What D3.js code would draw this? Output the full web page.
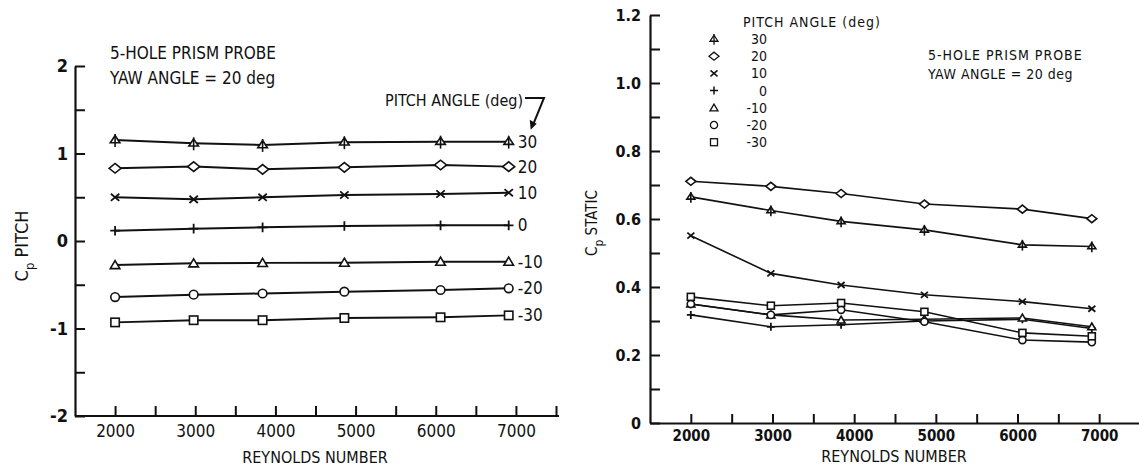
<!DOCTYPE html>
<html>
<head>
<meta charset="utf-8">
<script src="https://cdn.jsdelivr.net/npm/d3@7"></script>
<style>
  html, body { margin: 0; padding: 0; background: #fff; }
  svg { display: block; }
  text { fill: #111; }
</style>
</head>
<body>
<svg id="chart" width="1139" height="468"></svg>
<script>
// Reynolds numbers at which the probe was tested
const reynolds = [2000, 2980, 3840, 4860, 6060, 6910];
const pitchAngles = [30, 20, 10, 0, -10, -20, -30];
const reynoldsTicks = [2000, 2500, 3000, 3500, 4000, 4500, 5000, 5500, 6000, 6500, 7000, 7500];
const pitchTicks = [-2, -1.5, -1, -0.5, 0, 0.5, 1, 1.5, 2];
const staticTicks = [0, 0.1, 0.2, 0.3, 0.4, 0.5, 0.6, 0.7, 0.8, 0.9, 1.0, 1.1, 1.2];

// Pitch pressure coefficient, one array per pitch angle
const cpPitch30  = [1.154, 1.116, 1.097, 1.128, 1.135, 1.135];
const cpPitch20  = [0.831, 0.850, 0.819, 0.842, 0.869, 0.850];
const cpPitch10  = [0.499, 0.476, 0.499, 0.526, 0.537, 0.552];
const cpPitch0   = [0.118, 0.141, 0.156, 0.171, 0.179, 0.179];
const cpPitchM10 = [-0.275, -0.255, -0.250, -0.248, -0.236, -0.236];
const cpPitchM20 = [-0.641, -0.613, -0.600, -0.579, -0.560, -0.541];
const cpPitchM30 = [-0.930, -0.905, -0.905, -0.880, -0.872, -0.850];

// Static pressure coefficient, one array per pitch angle
const cpStatic30  = [0.665, 0.625, 0.593, 0.568, 0.524, 0.519];
const cpStatic20  = [0.711, 0.696, 0.675, 0.644, 0.629, 0.601];
const cpStatic10  = [0.551, 0.440, 0.406, 0.377, 0.357, 0.336];
const cpStatic0   = [0.318, 0.283, 0.289, 0.300, 0.305, 0.278];
const cpStaticM10 = [0.350, 0.318, 0.303, 0.305, 0.309, 0.283];
const cpStaticM20 = [0.350, 0.318, 0.333, 0.298, 0.244, 0.238];
const cpStaticM30 = [0.371, 0.345, 0.353, 0.327, 0.265, 0.255];

const pitchSeries = [cpPitch30, cpPitch20, cpPitch10, cpPitch0, cpPitchM10, cpPitchM20, cpPitchM30];
const staticSeries = [cpStatic30, cpStatic20, cpStatic10, cpStatic0, cpStaticM10, cpStaticM20, cpStaticM30];

// marker shape per pitch angle
const symbolFor = { "30": "triplus", "20": "diamond", "10": "cross", "0": "plus",
                    "-10": "triangle", "-20": "circle", "-30": "square" };

const FONT = '"Liberation Sans Narrow", "DejaVu Sans Condensed", "Arial Narrow", sans-serif';
const svg = d3.select("#chart");
svg.append("rect").attr("width", 1139).attr("height", 468).attr("fill", "#fff");

function drawMarker(g, type, s, sw) {
  sw = sw || 1.6;
  const st = { fill: "#fff", stroke: "#111", "stroke-width": sw };
  const apply = sel => { for (const k in st) sel.attr(k, st[k]); return sel; };
  if (type === "diamond") {
    apply(g.append("path").attr("d", `M${-s},0L0,${-s * 0.8}L${s},0L0,${s * 0.8}Z`));
  } else if (type === "square") {
    apply(g.append("rect").attr("x", -s * 0.7).attr("y", -s * 0.7).attr("width", s * 1.4).attr("height", s * 1.4));
  } else if (type === "circle") {
    apply(g.append("circle").attr("r", s * 0.72));
  } else if (type === "triangle") {
    apply(g.append("path").attr("d", `M0,${-s * 0.75}L${s * 0.8},${s * 0.6}L${-s * 0.8},${s * 0.6}Z`));
  } else if (type === "triplus") {
    apply(g.append("path").attr("d", `M0,${-s * 0.75}L${s * 0.8},${s * 0.45}L${-s * 0.8},${s * 0.45}Z`));
    g.append("path").attr("d", `M0,${-s * 1.0}L0,${s * 1.15}`).attr("stroke", "#111").attr("stroke-width", sw);
  } else if (type === "cross") {
    g.append("path").attr("d", `M${-s * 0.7},${-s * 0.6}L${s * 0.7},${s * 0.6}M${-s * 0.7},${s * 0.6}L${s * 0.7},${-s * 0.6}`)
      .attr("stroke", "#111").attr("stroke-width", sw + 0.2);
  } else if (type === "plus") {
    g.append("path").attr("d", `M${-s * 0.8},0L${s * 0.8},0M0,${-s * 0.8}L0,${s * 0.8}`)
      .attr("stroke", "#111").attr("stroke-width", sw + 0.2);
  }
}

function drawPanel(opts) {
  const { x, y, series, markerSize, lineWidth } = opts;
  const g = svg.append("g");
  const line = d3.line().x((d, i) => x(reynolds[i])).y(d => y(d));
  series.forEach(vals => {
    g.append("path").datum(vals).attr("d", line)
      .attr("fill", "none").attr("stroke", "#111").attr("stroke-width", lineWidth);
  });
  series.forEach((vals, k) => {
    const type = symbolFor[String(pitchAngles[k])];
    vals.forEach((v, i) => {
      const m = g.append("g").attr("transform", `translate(${x(reynolds[i])},${y(v)})`);
      drawMarker(m, type, markerSize);
    });
  });
  return g;
}

function styleAxis(sel, fontSize, weight) {
  sel.select(".domain").attr("stroke", "#111").attr("stroke-width", 2.2);
  sel.selectAll(".tick line").attr("stroke", "#111").attr("stroke-width", 2);
  sel.selectAll(".tick text").attr("font-family", FONT).attr("font-size", fontSize)
    .attr("font-weight", weight).attr("fill", "#111");
}

// ---------- Left panel: Cp PITCH ----------
const xL = d3.scaleLinear().domain([1500, 7500]).range([75, 556]);
const yL = d3.scaleLinear().domain([-2, 2]).range([416, 66]);

const axLx = svg.append("g").attr("transform", `translate(0,${yL(-2)})`)
  .call(d3.axisBottom(xL).tickValues(reynoldsTicks).tickSizeInner(-10).tickSizeOuter(0).tickPadding(9)
    .tickFormat(d => d % 1000 === 0 ? d : ""));
styleAxis(axLx, 17, "normal");
axLx.select(".domain").attr("d", `M${xL(1500)},0H${xL(7500) + 3}`);

const axLy = svg.append("g").attr("transform", `translate(${xL(1500)},0)`)
  .call(d3.axisLeft(yL).tickValues(pitchTicks).tickSizeInner(-10).tickSizeOuter(0).tickPadding(7)
    .tickFormat(d => Number.isInteger(d) ? d : ""));
styleAxis(axLy, 18, "bold");

drawPanel({ x: xL, y: yL, series: pitchSeries, markerSize: 6, lineWidth: 2 });

// series labels at the end of each curve
pitchSeries.forEach((vals, k) => {
  svg.append("text").attr("x", xL(reynolds[5]) + 9).attr("y", yL(vals[5]))
    .attr("dy", "0.36em").attr("font-family", FONT).attr("font-size", 17)
    .text(pitchAngles[k]);
});

svg.append("text").attr("x", 385).attr("y", 100).attr("dy", "0.36em")
  .attr("font-family", FONT).attr("font-size", 16).text("PITCH ANGLE (deg)");
{
  const tipX = xL(reynolds[5]) + 22, tipY = yL(cpPitch30[5]) - 12;
  svg.append("path").attr("d", `M525,98H544L${tipX + 2},${tipY - 4}`)
    .attr("fill", "none").attr("stroke", "#111").attr("stroke-width", 2);
  svg.append("path").attr("d", `M${tipX},${tipY}l-1,-10l7,4z`).attr("fill", "#111");
}

svg.append("text").attr("x", 110).attr("y", 53).attr("dy", "0.36em")
  .attr("font-family", FONT).attr("font-size", 17).text("5-HOLE PRISM PROBE");
svg.append("text").attr("x", 110).attr("y", 78).attr("dy", "0.36em")
  .attr("font-family", FONT).attr("font-size", 17).text("YAW ANGLE = 20 deg");

{
  const t = svg.append("text").attr("transform", "translate(28,246) rotate(-90)")
    .attr("text-anchor", "middle").attr("font-family", FONT).attr("font-size", 18);
  t.append("tspan").text("C");
  t.append("tspan").attr("font-size", 13).attr("dy", 6).text("p");
  t.append("tspan").attr("dy", -6).text(" PITCH");
}
svg.append("text").attr("x", 315).attr("y", 457).attr("dy", "0.36em").attr("text-anchor", "middle")
  .attr("font-family", FONT).attr("font-size", 16).text("REYNOLDS NUMBER");

// ---------- Right panel: Cp STATIC ----------
const xR = d3.scaleLinear().domain([1500, 7500]).range([650, 1140]);
const yR = d3.scaleLinear().domain([0, 1.2]).range([423, 15]);

const axRx = svg.append("g").attr("transform", `translate(0,${yR(0)})`)
  .call(d3.axisBottom(xR).tickValues(reynoldsTicks).tickSizeInner(-9).tickSizeOuter(0).tickPadding(7)
    .tickFormat(d => d % 1000 === 0 ? d : ""));
styleAxis(axRx, 15, "bold");

const axRy = svg.append("g").attr("transform", `translate(${xR(1500)},0)`)
  .call(d3.axisLeft(yR).tickValues(staticTicks).tickSizeInner(-10).tickSizeOuter(0).tickPadding(9)
    .tickFormat(d => {
      const r = Math.round(d * 10);
      if (r % 2 !== 0) return "";
      return r === 0 ? "0" : d3.format(".1f")(d);
    }));
styleAxis(axRy, 16, "bold");

drawPanel({ x: xR, y: yR, series: staticSeries, markerSize: 5, lineWidth: 1.6 });

// legend
svg.append("text").attr("x", 743).attr("y", 22).attr("dy", "0.36em")
  .attr("font-family", FONT).attr("font-size", 14).attr("letter-spacing", 1).text("PITCH ANGLE (deg)");
pitchAngles.forEach((a, k) => {
  const ly = 39 + k * 17.2;
  const m = svg.append("g").attr("transform", `translate(714,${ly})`);
  drawMarker(m, symbolFor[String(a)], 5, 1.3);
  svg.append("text").attr("x", 767).attr("y", ly).attr("dy", "0.36em").attr("text-anchor", "end")
    .attr("font-family", FONT).attr("font-size", 14).text(a);
});

svg.append("text").attr("x", 928).attr("y", 55).attr("dy", "0.36em")
  .attr("font-family", FONT).attr("font-size", 14).attr("letter-spacing", 1).text("5-HOLE PRISM PROBE");
svg.append("text").attr("x", 928).attr("y", 74).attr("dy", "0.36em")
  .attr("font-family", FONT).attr("font-size", 14).attr("letter-spacing", 0.5).text("YAW ANGLE = 20 deg");

{
  const t = svg.append("text").attr("transform", "translate(597,223) rotate(-90)")
    .attr("text-anchor", "middle").attr("font-family", FONT).attr("font-size", 15);
  t.append("tspan").text("C");
  t.append("tspan").attr("font-size", 12).attr("dy", 6).text("p");
  t.append("tspan").attr("dy", -6).text(" STATIC");
}
svg.append("text").attr("x", 894).attr("y", 456).attr("dy", "0.36em").attr("text-anchor", "middle")
  .attr("font-family", FONT).attr("font-size", 16).text("REYNOLDS NUMBER");
</script>
</body>
</html>
